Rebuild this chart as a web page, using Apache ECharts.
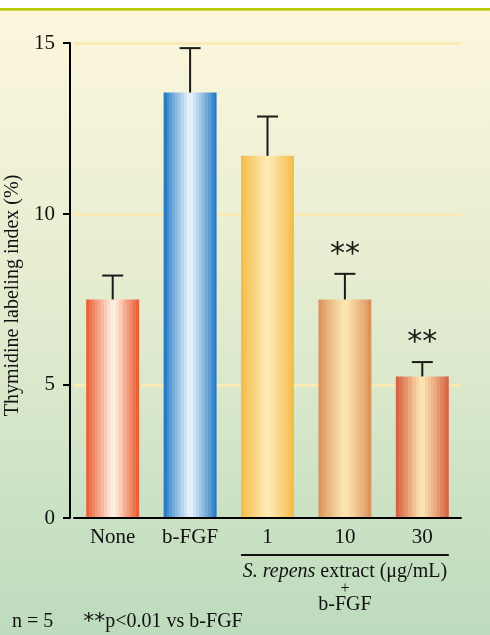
<!DOCTYPE html>
<html><head><meta charset="utf-8">
<script src="https://cdn.jsdelivr.net/npm/echarts@6/dist/echarts.min.js"></script>
<style>html,body{margin:0;padding:0;}#c{width:490px;height:635px;}</style>
</head><body><div id="c"></div>
<script>
// ---- data ----
const categories = ['None', 'b-FGF', '1', '10', '30'];
const means = [7.5, 13.55, 11.7, 7.5, 5.25];
const errUpper = [8.2, 14.85, 12.85, 8.25, 5.67];
const significance = ['', '', '', '**', '**'];
const yTicks = [5, 10, 15];
const yBottom = 1.11; // visual bottom of the axis (labelled "0" in the original)
const edgeColors = ['#e8552a', '#1872c0', '#f5b843', '#d98f55', '#d25a3a'];
const centerColors = ['#fff4e6', '#f0f6fe', '#ffedbb', '#fde9b6', '#fde9b6'];

function mix(a, b, t) {
  const pa = [1,3,5].map(i => parseInt(a.substr(i,2),16));
  const pb = [1,3,5].map(i => parseInt(b.substr(i,2),16));
  return 'rgb(' + pa.map((v,i) => Math.round(v + (pb[i]-v)*t)).join(',') + ')';
}
function stripes(edge, center) {
  const n = 9, stops = [];
  const seg = 1 / (2*n);
  for (let k = 0; k < 2*n; k++) {
    const d = Math.abs((k + 0.5) - n) / n;
    const t = 1 - d;
    const col = mix(edge, center, Math.pow(t, 0.9));
    stops.push({offset: k*seg, color: col});
    stops.push({offset: (k+1)*seg, color: col});
  }
  return {type: 'linear', x: 0, y: 0, x2: 1, y2: 0, colorStops: stops};
}

const chart = echarts.init(document.getElementById('c'));
const serif = 'Liberation Serif';
const option = {
  backgroundColor: {
    type: 'linear', x: 0, y: 0, x2: 0, y2: 1,
    colorStops: [
      {offset: 0, color: '#ffffff'}, {offset: 0.0125, color: '#ffffff'},
      {offset: 0.0126, color: '#b5c800'}, {offset: 0.0165, color: '#b5c800'},
      {offset: 0.0166, color: '#fdf7dc'},
      {offset: 0.5, color: '#e2ebcf'},
      {offset: 1, color: '#bddbbd'}
    ]
  },
  animation: false,
  grid: {left: 74, right: 29, top: 43, bottom: 117, containLabel: false, outerBoundsMode: 'none'},
  xAxis: {
    type: 'category', data: categories, z: 10,
    axisLine: {lineStyle: {color: '#000', width: 2}},
    axisTick: {show: false},
    axisLabel: {color: '#111', fontFamily: serif, fontSize: 21, margin: 9}
  },
  yAxis: {
    type: 'value', min: yBottom, max: 15, offset: 4, z: 10,
    name: 'Thymidine labeling index (%)', nameLocation: 'middle', nameGap: 40,
    nameRotate: 90,
    nameTextStyle: {color: '#111', fontFamily: serif, fontSize: 20, padding: [0, 30, 0, 0]},
    axisLine: {show: true, lineStyle: {color: '#000', width: 2}},
    axisTick: {show: true, inside: false, length: 7, lineStyle: {color: '#000', width: 2},
               customValues: [yBottom].concat(yTicks)},
    axisLabel: {color: '#111', fontFamily: serif, fontSize: 21, margin: 15,
                customValues: [yBottom].concat(yTicks),
                formatter: v => (Math.abs(v - yBottom) < 1e-6 ? '0' : String(v))},
    splitLine: {show: false}
  },
  series: [
    {
      type: 'line', data: [], z: 1, silent: true,
      markLine: {
        silent: true, symbol: 'none', label: {show: false}, z: 1,
        lineStyle: {color: '#fbeab6', width: 3, type: 'solid'},
        data: yTicks.map(v => ({yAxis: v}))
      }
    },
    {
      type: 'bar', barWidth: 53, z: 3,
      data: means.map((v, i) => ({value: v, itemStyle: {color: stripes(edgeColors[i], centerColors[i])}}))
    },
    {
      type: 'custom', z: 4,
      data: means.map((v, i) => [i, v, errUpper[i]]),
      renderItem: function (params, api) {
        const i = api.value(0);
        const top = api.coord([i, api.value(1)]);
        const up = api.coord([i, api.value(2)]);
        const hw = 10.5;
        const children = [
          {type: 'line', shape: {x1: top[0], y1: top[1], x2: up[0], y2: up[1]},
           style: {stroke: '#1a1a1a', lineWidth: 2}},
          {type: 'line', shape: {x1: up[0]-hw, y1: up[1], x2: up[0]+hw, y2: up[1]},
           style: {stroke: '#1a1a1a', lineWidth: 2}}
        ];
        const s = significance[i];
        if (s) {
          children.push({type: 'text', x: up[0], y: up[1] - 19,
            style: {text: s, fill: '#1a1a1a', font: '30px "DejaVu Sans"', align: 'center', verticalAlign: 'middle'}});
        }
        return {type: 'group', children: children};
      }
    }
  ]
};
chart.setOption(option);

const barW = 53;
const left1 = chart.convertToPixel({xAxisIndex: 0}, categories[2]) - barW / 2;
const right30 = chart.convertToPixel({xAxisIndex: 0}, categories[4]) + barW / 2;
const midX = (left1 + right30) / 2;
chart.setOption({
  graphic: [
    {type: 'line', shape: {x1: left1, y1: 555, x2: right30, y2: 555}, style: {stroke: '#111', lineWidth: 2}},
    {type: 'text', x: midX, y: 572, style: {
      text: '{i|S. repens} extract (μg/mL)', align: 'center', verticalAlign: 'middle',
      fill: '#111', font: '20px "Liberation Serif"',
      rich: {i: {fontStyle: 'italic', fontFamily: serif, fontSize: 20, fill: '#111'}}}},
    {type: 'text', x: midX, y: 589, style: {text: '+', align: 'center', verticalAlign: 'middle', fill: '#111', font: '16px "Liberation Serif"'}},
    {type: 'text', x: midX, y: 605, style: {text: 'b-FGF', align: 'center', verticalAlign: 'middle', fill: '#111', font: '20px "Liberation Serif"'}},
    {type: 'text', x: 12, y: 622, style: {
      text: 'n = 5      {a|**}p<0.01 vs b-FGF', align: 'left', verticalAlign: 'middle', fill: '#111', font: '20px "Liberation Serif"',
      rich: {a: {fontFamily: 'DejaVu Sans', fontSize: 22, fill: '#111'}}}}
  ]
});
</script></body></html>
